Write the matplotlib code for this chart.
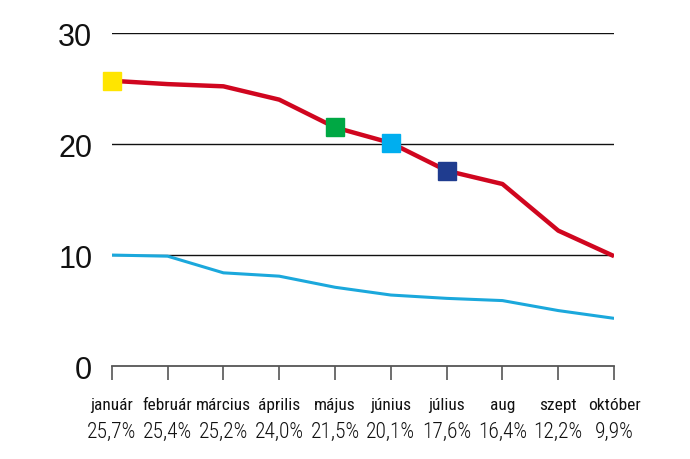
import numpy as np
from matplotlib import pyplot as plt

months = ['január', 'február', 'március', 'április', 'május',
          'június', 'július', 'aug', 'szept', 'október']
red_values = [25.7, 25.4, 25.2, 24.0, 21.5, 20.1, 17.6, 16.4, 12.2, 9.9]
blue_values = [10.0, 9.9, 8.4, 8.1, 7.1, 6.4, 6.1, 5.9, 5.0, 4.3]
marker_months = [0, 4, 5, 6]
marker_colors = ['#ffe500', '#00a844', '#00aeef', '#1f3c8f']
y_ticks = [0, 10, 20, 30]

fig = plt.figure(figsize=(6.9, 4.6), dpi=100)
ax = fig.add_axes([0.162, 0.202, 0.728, 0.724])

x = np.arange(len(months))
ax.plot(x, blue_values, color='#1ba8dc', lw=2.2, solid_capstyle='butt', zorder=3)
ax.plot(x, red_values, color='#d0061f', lw=3.2, solid_capstyle='butt', zorder=4)
for i, c in zip(marker_months, marker_colors):
    ax.plot(x[i], red_values[i], marker='s', ms=13, color=c, mec=c, ls='none', zorder=5,
            clip_on=False)

ax.set_xlim(0, len(months) - 1)
ax.set_ylim(0, 30)
ax.set_yticks(y_ticks)
ax.set_yticklabels([str(t) for t in y_ticks], fontsize=22, family='Liberation Sans',
                   color='#111111')
ax.tick_params(axis='y', length=0, pad=14)
for t in y_ticks[1:]:
    ax.axhline(t, color='#111111', lw=1.0, zorder=1)

ax.set_xticks(x)
ax.set_xticklabels([])
ax.tick_params(axis='x', length=10, width=1.2, color='#555555', direction='out')
for s in ['top', 'right', 'left']:
    ax.spines[s].set_visible(False)
ax.spines['bottom'].set_color('#555555')
ax.spines['bottom'].set_linewidth(1.3)

trans = ax.get_xaxis_transform()
for i, (m, v) in enumerate(zip(months, red_values)):
    ax.text(i, -0.115, m, transform=trans, ha='center', va='center', fontsize=12.5,
            family='Roboto Condensed', color='#111111')
    ax.text(i, -0.195, f'{v:.1f}%'.replace('.', ','), transform=trans, ha='center',
            va='center', fontsize=15.5, family='Roboto Condensed', weight=300,
            color='#111111')

fig.savefig('out.png', dpi=100, facecolor='white')
